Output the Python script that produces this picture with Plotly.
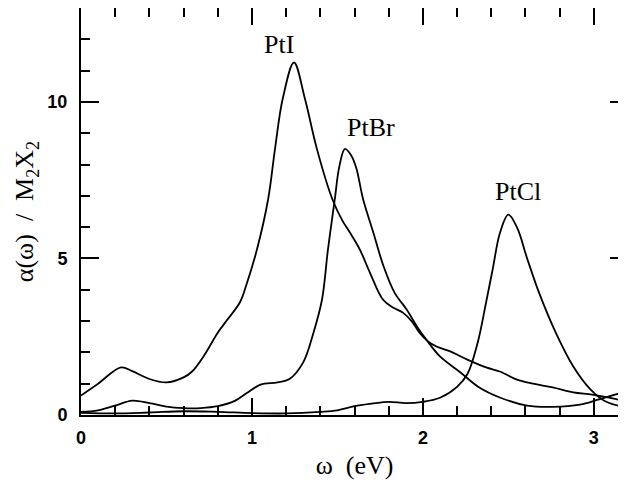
import plotly.graph_objects as go

# omega (eV) and alpha(omega)/M2X2
pti_w = [0.0, 0.1, 0.234, 0.3, 0.4, 0.5, 0.6, 0.65, 0.72, 0.8, 0.85, 0.93, 0.97, 1.03,
         1.095, 1.135, 1.18, 1.246, 1.31, 1.38, 1.47, 1.53, 1.573, 1.63, 1.69, 1.766,
         1.825, 1.883, 1.935, 1.98, 2.03, 2.08, 2.16, 2.26, 2.37, 2.45, 2.55, 2.645,
         2.76, 2.88, 2.99, 3.11, 3.2]
pti_a = [0.62, 1.0, 1.52, 1.4, 1.15, 1.04, 1.2, 1.39, 1.9, 2.63, 3.0, 3.6, 4.2, 5.3,
         6.9, 8.5, 10.1, 11.26, 10.1, 8.5, 6.9, 6.2, 5.83, 5.3, 4.55, 3.69,
         3.43, 3.27, 2.99, 2.63, 2.35, 2.19, 2.03, 1.77, 1.52, 1.39, 1.13, 1.0,
         0.88, 0.72, 0.65, 0.53, 0.42]

ptbr_w = [0.0, 0.1, 0.2, 0.3, 0.4, 0.5, 0.6, 0.7, 0.8, 0.9, 0.97, 1.05, 1.15, 1.22,
          1.3, 1.36, 1.41, 1.445, 1.485, 1.51, 1.544, 1.58, 1.61, 1.65, 1.71, 1.77,
          1.835, 1.905, 1.965, 2.02, 2.1, 2.22, 2.33, 2.45, 2.61, 2.76, 2.92, 3.03, 3.2]
ptbr_a = [0.1, 0.15, 0.3, 0.46, 0.38, 0.27, 0.22, 0.22, 0.28, 0.45, 0.7, 0.97, 1.04, 1.15,
          1.68, 2.63, 3.69, 5.3, 6.9, 7.9, 8.5, 8.3, 7.9, 6.9, 5.83, 4.75,
          3.9, 3.37, 2.83, 2.41, 1.87, 1.36, 0.88, 0.56, 0.3, 0.26, 0.33, 0.5, 0.77]

ptcl_w = [0.0, 0.2, 0.4, 0.6, 0.8, 1.0, 1.2, 1.4, 1.5, 1.6, 1.7, 1.8, 1.9, 2.0, 2.1,
          2.2, 2.26, 2.32, 2.37, 2.41, 2.45, 2.5, 2.55, 2.61, 2.68, 2.78, 2.88, 2.98,
          3.07, 3.2]
ptcl_a = [0.07, 0.05, 0.08, 0.12, 0.1, 0.06, 0.05, 0.1, 0.15, 0.28, 0.36, 0.42, 0.38, 0.42, 0.55,
          0.9, 1.3, 2.3, 3.6, 4.7, 5.8, 6.4, 6.0, 5.0, 3.9, 2.6, 1.55, 0.82,
          0.43, 0.23]

labels = ['PtI', 'PtBr', 'PtCl']
label_w = [1.158, 1.696, 2.556]
label_a = [11.84, 9.19, 7.14]

x_range = [0, 3.2]
y_range = [0, 13.0]

line = dict(color='black', width=1.8, shape='spline', smoothing=1.0)

fig = go.Figure()
fig.add_trace(go.Scatter(x=pti_w, y=pti_a, mode='lines', name='PtI', line=line))
fig.add_trace(go.Scatter(x=ptbr_w, y=ptbr_a, mode='lines', name='PtBr', line=line))
# PtCl drawn on the mirrored axes (same ranges) so the top/right ticks get rendered
fig.add_trace(go.Scatter(x=ptcl_w, y=ptcl_a, mode='lines', name='PtCl', line=line,
                         xaxis='x2', yaxis='y2'))

for t, x, y in zip(labels, label_w, label_a):
    fig.add_annotation(x=x, y=y, text=t, showarrow=False,
                       font=dict(family='Liberation Serif', size=26, color='black'))

tickfont = dict(family='Liberation Sans', size=18, color='black', weight='bold')
title_font = dict(family='Liberation Serif', size=26, color='black')
minor_x = dict(dtick=0.2, ticks='inside', ticklen=9, tickwidth=1.5, tickcolor='black')
minor_y = dict(dtick=1, ticks='inside', ticklen=9, tickwidth=1.5, tickcolor='black')

# the page body adds an 8px offset, so margins are set 8px smaller on the left/top
fig.update_layout(
    width=626, height=481,
    margin=dict(l=73, r=6, t=0, b=74, autoexpand=False),
    plot_bgcolor='white', paper_bgcolor='white',
    showlegend=False,
    xaxis=dict(range=x_range, showgrid=False, zeroline=False, automargin=False,
               showline=True, linecolor='black', linewidth=2, mirror=True,
               ticks='inside', ticklen=17, tickwidth=2, tickcolor='black',
               tickvals=[0, 1, 2, 3], tickfont=tickfont, ticklabelstandoff=5,
               minor=minor_x,
               title=dict(text='ω  (eV)', standoff=9, font=title_font)),
    yaxis=dict(range=y_range, showgrid=False, zeroline=False, automargin=False,
               showline=True, linecolor='black', linewidth=2, mirror=False,
               ticks='inside', ticklen=18, tickwidth=2, tickcolor='black',
               tickvals=[0, 5, 10], tickfont=tickfont, ticklabelstandoff=8,
               minor=minor_y,
               title=dict(text='α(ω)  /  M<sub>2</sub>X<sub>2</sub>', standoff=6,
                          font=title_font)),
    xaxis2=dict(range=x_range, overlaying='x', side='top', showgrid=False,
                zeroline=False, showline=False, showticklabels=False, automargin=False,
                ticks='inside', ticklen=17, tickwidth=2, tickcolor='black',
                tickvals=[0, 1, 2, 3], minor=minor_x),
    yaxis2=dict(range=y_range, overlaying='y', side='right', showgrid=False,
                zeroline=False, showline=False, showticklabels=False, automargin=False,
                ticks='inside', ticklen=18, tickwidth=2, tickcolor='black',
                tickvals=[0, 5, 10], minor=minor_y),
)

fig.write_html("out.html")
